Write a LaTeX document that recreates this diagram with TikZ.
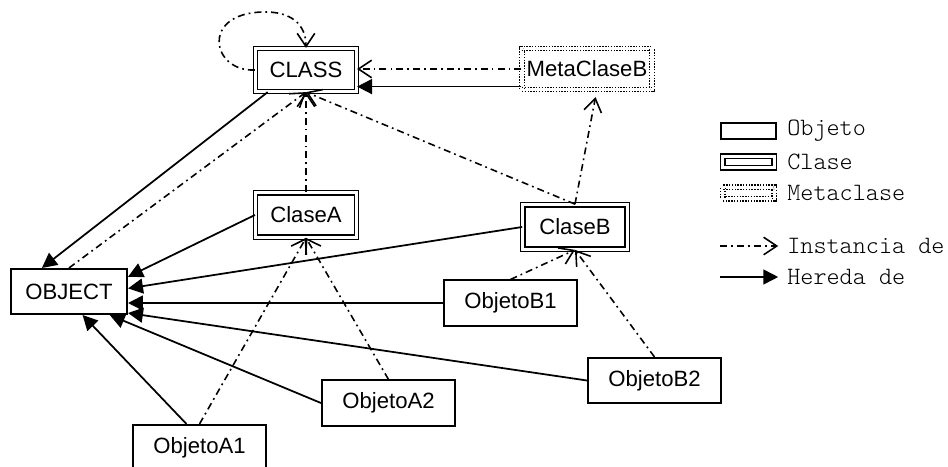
\documentclass[tikz,border=0pt]{standalone}
\usepackage{fontspec}
\setmainfont{Liberation Sans}
\newfontfamily\legendfont{Latin Modern Mono Light}
\usetikzlibrary{arrows.meta,calc}

\tikzset{
  obj/.style={draw, line width=0.9pt, inner sep=0pt, minimum width=2.67cm,
    minimum height=0.91cm, font=\fontsize{12.6}{15}\selectfont},
  cls/.style={obj, line width=0.7pt, double, double distance=1.8pt},
  meta/.style={cls, dash pattern=on 0.8pt off 0.8pt},
  inh/.style={line width=1pt, -{Triangle[length=8.5pt,width=8.5pt]}},
  inst/.style={line width=0.9pt, dash pattern=on 4pt off 2.3pt on 1pt off 2.3pt,
    -{Straight Barb[length=7.5pt,width=10pt]}},
  lgtext/.style={anchor=west, inner sep=0pt, font=\legendfont\fontsize{14.2}{16}\selectfont}
}

\begin{document}
\begin{tikzpicture}[x=0.02cm, y=-0.02cm]
  \useasboundingbox (0,0) rectangle (948,467);
  % classes and metaclass
  \node[cls, minimum width=2.02cm, minimum height=0.86cm] (CLASS) at (306,70) {CLASS};
  \node[meta, minimum width=2.6cm, minimum height=0.82cm] (MetaClaseB) at (587,69) {MetaClaseB};
  \node[cls, minimum width=2.02cm, minimum height=0.89cm] (ClaseA) at (306,215) {ClaseA};
  \node[cls, minimum width=2.09cm, minimum height=0.89cm] (ClaseB) at (575,227) {ClaseB};
  % objects
  \node[obj, minimum width=2.33cm] (OBJECT) at (69,291.5) {OBJECT};
  \node[obj] (ObjetoB1) at (510.5,303) {ObjetoB1};
  \node[obj] (ObjetoB2) at (654.5,380.5) {ObjetoB2};
  \node[obj] (ObjetoA2) at (388.5,403) {ObjetoA2};
  \node[obj] (ObjetoA1) at (199.5,447.5) {ObjetoA1};

  % hereda de
  \draw[inh] (CLASS.210) -- (OBJECT.139);
  \draw[inh] ([yshift=2pt]MetaClaseB.south west) -- ([yshift=2pt]MetaClaseB.south west -| CLASS.east);
  \draw[inh] (ClaseA.west) -- (OBJECT.14);
  \draw[inh] (ClaseB.west) -- (OBJECT.3);
  \draw[inh] (ObjetoB1.west) -- (ObjetoB1.west -| OBJECT.east);
  \draw[inh] (ObjetoB2.west) -- (OBJECT.-20);
  \draw[inh] (ObjetoA2.west) -- (OBJECT.-30);
  \draw[inh] (ObjetoA1.119) -- (OBJECT.-60);

  % instancia de
  \draw[inst] (CLASS.west) .. controls (212,72) and (200,14) .. (262,12)
    .. controls (292,11) and (306,25) .. (CLASS.north);
  \draw[inst] (MetaClaseB.west) -- (MetaClaseB.west -| CLASS.east);
  \draw[inst] (OBJECT.north) -- (CLASS.south);
  \draw[inst] (ClaseA.north) -- (CLASS.south);
  \draw[inst] (ClaseB.north) -- (CLASS.south);
  \draw[inst, shorten >=4pt] (ClaseB.north) -- (MetaClaseB.-65);
  \draw[inst] (ObjetoA1.north) -- (ClaseA.south);
  \draw[inst] (ObjetoA2.north) -- (ClaseA.south);
  \draw[inst] (ObjetoB1.north) -- (ClaseB.south);
  \draw[inst] (ObjetoB2.north) -- (ClaseB.south);

  % legend
  \node[obj, minimum width=1.11cm, minimum height=0.31cm] (lgObj) at (748.5,131) {};
  \node[cls, minimum width=1.03cm, minimum height=0.23cm] (lgCls) at (748.5,162) {};
  \node[meta, minimum width=1.03cm, minimum height=0.23cm] (lgMeta) at (748.5,193) {};
  \node[lgtext] (tObj) at (787,131) {Objeto};
  \node[lgtext] (tCls) at (787,162) {Clase};
  \node[lgtext] (tMeta) at (787,193) {Metaclase};
  \node[lgtext] (tInst) at (787,246) {Instancia de};
  \node[lgtext] (tHer) at (787,277) {Hereda de};
  \coordinate (lgInst) at (720,246);
  \coordinate (lgHer) at (720,277);
  \draw[inst] (lgInst) -- ([xshift=-5pt]tInst.west);
  \draw[inh] (lgHer) -- ([xshift=-5pt]tHer.west);
\end{tikzpicture}
\end{document}
